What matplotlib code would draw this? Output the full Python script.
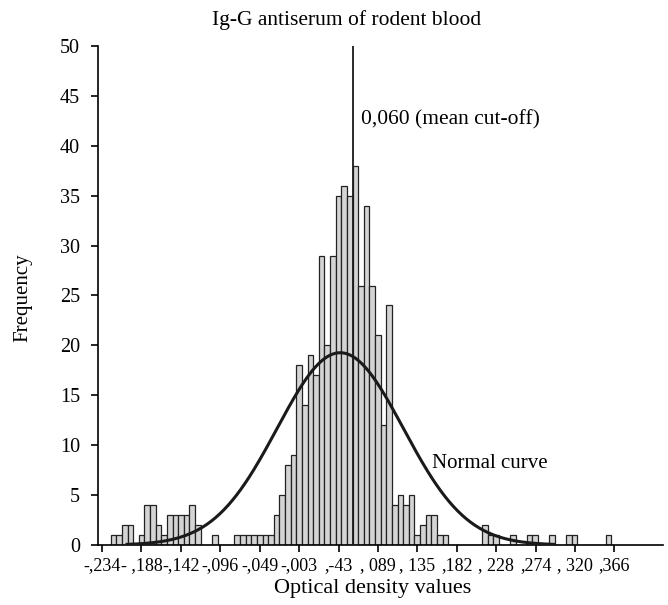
import numpy as np
import matplotlib.pyplot as plt

plt.rcParams['font.family'] = ['Liberation Serif', 'DejaVu Serif']

# histogram counts, one per bin, left to right
counts = [1, 1, 2, 2, 0, 1, 4, 4, 2, 1, 3, 3, 3, 3, 4, 2, 0, 0, 1, 0,
          0, 0, 1, 1, 1, 1, 1, 1, 1, 3, 5, 8, 9, 18, 14, 19, 17, 29, 20, 29,
          35, 36, 35, 38, 26, 34, 26, 21, 12, 24, 4, 5, 4, 5, 1, 2, 3, 3, 1, 1,
          0, 0, 0, 0, 0, 0, 2, 1, 1, 0, 0, 1, 0, 0, 1, 1, 0, 0, 1, 0,
          0, 1, 1, 0, 0, 0, 0, 0, 1]
bin_start = -0.2241
bin_width = 0.0065934

tick_values = [-0.234, -0.188, -0.142, -0.096, -0.049, -0.003, 0.043, 0.089,
               0.135, 0.182, 0.228, 0.274, 0.320, 0.366]
tick_labels = ['-,234', '- ,188', '-,142', '-,096', '-,049', '-,003', ',-43',
               ', 089', ', 135', ',182', ', 228', ',274', ', 320', ',366']

cutoff = 0.060
curve_mean = 0.045
curve_sd = 0.074

fig = plt.figure(figsize=(6.68, 6.05), dpi=100)
ax = fig.add_axes([0.1467, 0.0992, 0.8458, 0.8248])

lefts = bin_start + bin_width * np.arange(len(counts))
ax.bar(lefts, counts, width=bin_width, align='edge', color='#d4d4d4',
       edgecolor='#222222', linewidth=0.9, zorder=2)

# normal curve scaled to the histogram
n_total = sum(counts)
xs = np.linspace(curve_mean - 0.25, curve_mean + 0.25, 300)
ys = n_total * bin_width / (curve_sd * np.sqrt(2 * np.pi)) * \
    np.exp(-0.5 * ((xs - curve_mean) / curve_sd) ** 2)
ax.plot(xs, ys, color='#1a1a1a', linewidth=2.2, zorder=3)

ax.plot([cutoff, cutoff], [0, 50], color='#1a1a1a', linewidth=1.3, zorder=4)
ax.text(0.0693, 42.6, '0,060 (mean cut-off)', fontsize=15.5, va='center', ha='left')
ax.text(0.1526, 8.2, 'Normal curve', fontsize=15, va='center', ha='left')

ax.set_xlim(-0.239, 0.4234)
ax.set_ylim(0, 50)
ax.set_xticks(tick_values)
ax.set_xticklabels(tick_labels)
ax.set_yticks(range(0, 51, 5))
ax.tick_params(axis='x', direction='out', length=5, width=1.2, labelsize=13, pad=4)
ax.tick_params(axis='y', direction='out', length=5, width=1.2, labelsize=14.5, pad=8)

for side in ['top', 'right']:
  ax.spines[side].set_visible(False)
for side in ['left', 'bottom']:
  ax.spines[side].set_linewidth(1.2)

fig.text(347 / 668, 1 - 20 / 605, 'Ig-G antiserum of rodent blood', fontsize=15.5,
         ha='center', va='center')
fig.text(373 / 668, 1 - 589 / 605, 'Optical density values', fontsize=16,
         ha='center', va='center')
fig.text(23 / 668, 1 - 298 / 605, 'Frequency', fontsize=15, rotation=90,
         ha='center', va='center')

fig.savefig('out.png', dpi=100)
